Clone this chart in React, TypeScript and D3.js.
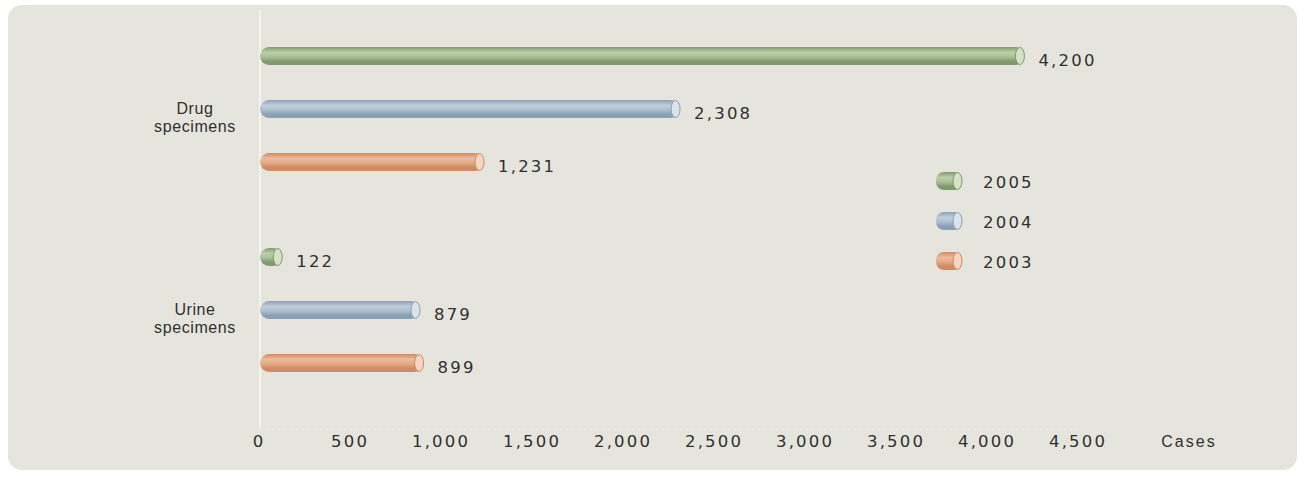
import React from "react";
import * as d3 from "d3";

const categories = ["Drug\nspecimens", "Urine\nspecimens"];
const years = ["2005", "2004", "2003"];
const drugValues = [4200, 2308, 1231];
const urineValues = [122, 879, 899];
const xTicks = [0, 500, 1000, 1500, 2000, 2500, 3000, 3500, 4000, 4500];

const colors: Record<string, { dark: string; mid: string; light: string; cap: string }> = {
  "2005": { dark: "#7f9a6c", mid: "#a9c096", light: "#bccfa9", cap: "#d6e2c8" },
  "2004": { dark: "#8aa0b5", mid: "#aebfd0", light: "#c0cedb", cap: "#dbe4ec" },
  "2003": { dark: "#cf8b63", mid: "#e4aa86", light: "#ecbc9c", cap: "#f4d6c2" },
};

export default function App() {
  const W = 1305, H = 485;
  const x = d3.scaleLinear().domain([0, 4500]).range([260, 1079]);
  const rows = [
    { cat: "0", vals: drugValues },
    { cat: "1", vals: urineValues },
  ];
  const catY = d3.scalePoint().domain(["0", "1"]).range([109, 310]);
  const barY = d3.scalePoint().domain(years).range([-53, 53]);
  const fmt = d3.format(",");
  const bh = 18;
  const font = "'Liberation Sans', Arial, sans-serif";
  const numFont = "'DejaVu Sans', Verdana, sans-serif";
  const numLs = 2.2;
  const numSize = 16.5;
  const txt = "#303030";

  return (
    <svg width={W} height={H} style={{ position: "absolute", left: 0, top: 0 }}>
      <defs>
        {years.map((y) => (
          <linearGradient key={y} id={"g" + y} x1="0" y1="0" x2="0" y2="1">
            <stop offset="0" stopColor={colors[y].dark} />
            <stop offset="0.3" stopColor={colors[y].light} />
            <stop offset="0.55" stopColor={colors[y].mid} />
            <stop offset="0.8" stopColor={colors[y].dark} />
            <stop offset="1" stopColor={colors[y].dark} />
          </linearGradient>
        ))}
      </defs>
      <rect x={0} y={0} width={W} height={H} fill="#ffffff" />
      <rect x={8} y={5} width={1289} height={465} rx={14} fill="#e5e5dd" />
      <line x1={x(0)} x2={x(0)} y1={10} y2={428} stroke="#f4f4ee" strokeWidth={2} />
      <line x1={x(0)} x2={x(4500)} y1={429} y2={429} stroke="#efefe8" strokeWidth={1} strokeDasharray="2,4" />
      {rows.map((r, ri) => {
        const yc = catY(r.cat)!;
        const lines = categories[ri].split("\n");
        return (
          <g key={r.cat}>
            {lines.map((l, i) => (
              <text key={i} x={195} y={yc + 5 + i * 18} textAnchor="middle" fontFamily={font} fontSize={16} fill={txt} letterSpacing={0.6}>
                {l}
              </text>
            ))}
            {years.map((yr, i) => {
              const v = r.vals[i];
              const cy = yc + barY(yr)!;
              const xe = x(v);
              const w = Math.max(xe - x(0), 12);
              return (
                <g key={yr}>
                  <rect x={x(0)} y={cy - bh / 2} width={w} height={bh} rx={bh / 2} fill={`url(#g${yr})`} />
                  <ellipse cx={x(0) + w - 4.5} cy={cy} rx={4.5} ry={bh / 2 - 0.5} fill={colors[yr].cap} stroke={colors[yr].dark} strokeWidth={1} />
                  <text x={x(0) + w + 14} y={cy + 10} fontFamily={numFont} fontSize={numSize} fill={txt} letterSpacing={numLs}>
                    {fmt(v)}
                  </text>
                </g>
              );
            })}
          </g>
        );
      })}
      {years.map((yr, i) => {
        const cy = 181 + i * 40;
        return (
          <g key={yr}>
            <rect x={936} y={cy - 9} width={26} height={18} rx={8} fill={`url(#g${yr})`} />
            <ellipse cx={957.5} cy={cy} rx={4.5} ry={8.5} fill={colors[yr].cap} stroke={colors[yr].dark} strokeWidth={1} />
            <text x={983} y={cy + 7} fontFamily={numFont} fontSize={numSize} fill={txt} letterSpacing={numLs}>
              {yr}
            </text>
          </g>
        );
      })}
      {xTicks.map((t) => (
        <text key={t} x={x(t) + numLs / 2 - 2} y={447} textAnchor="middle" fontFamily={numFont} fontSize={numSize} fill={txt} letterSpacing={numLs}>
          {fmt(t)}
        </text>
      ))}
      <text x={1189} y={447} textAnchor="middle" fontFamily={font} fontSize={16} fill={txt} letterSpacing={2}>
        Cases
      </text>
    </svg>
  );
}
